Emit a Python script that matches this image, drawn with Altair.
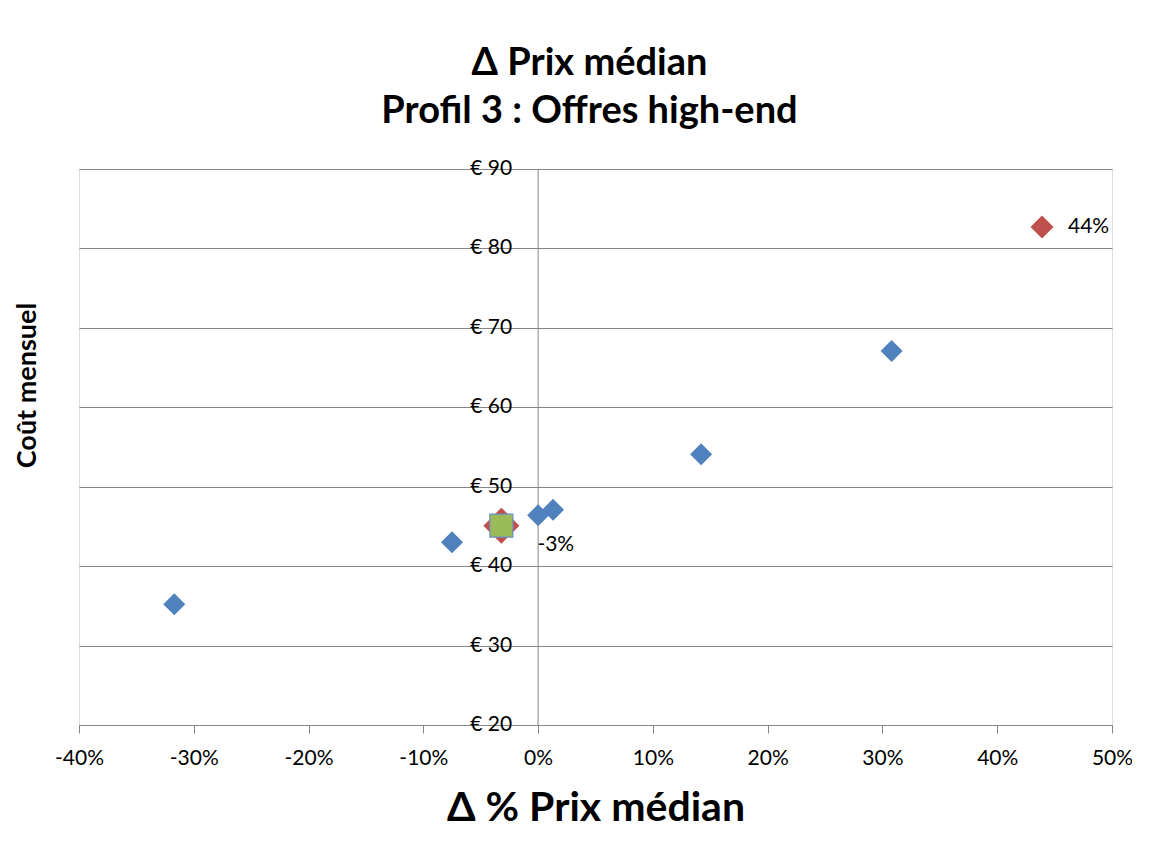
import altair as alt
import pandas as pd

# ---- data ----
blue_x = [-31.7, -7.5, 0.0, 1.3, 14.2, 30.8]
blue_y = [35.2, 43.0, 46.4, 47.1, 54.1, 67.1]

red_x = [43.9]
red_y = [82.7]

median_x = [-3.2]
median_y = [45.1]

label_x = [43.9, -3.2]
label_y = [82.7, 45.1]
label_text = ["44%", "-3%"]

x_ticks = [-40, -30, -20, -10, 0, 10, 20, 30, 40, 50]
y_ticks = [20, 30, 40, 50, 60, 70, 80, 90]
y_tick_labels = ["€ 20", "€ 30", "€ 40", "€ 50", "€ 60", "€ 70", "€ 80", "€ 90"]

# ---- styling ----
FONT = "Lato"
GRID = "#868686"
BLUE = "#4F81BD"
RED = "#C0504D"
GREEN = "#9BBB59"

W, H = 1033, 556

xenc = alt.X(
    "x:Q",
    scale=alt.Scale(domain=[-40, 50], nice=False, zero=False),
    axis=alt.Axis(
        values=x_ticks,
        labelExpr="datum.value + '%'",
        labelFlush=False,
        labelOverlap=False,
        grid=False,
        domainColor=GRID,
        tickColor=GRID,
        tickSize=8,
        labelFont=FONT,
        labelFontSize=21,
        labelColor="black",
        labelPadding=14,
        title="Δ % Prix médian",
        titleFont=FONT,
        titleFontSize=41,
        titleFontWeight="bold",
        titleColor="black",
        titlePadding=20,
    ),
)
yenc = alt.Y(
    "y:Q",
    scale=alt.Scale(domain=[20, 90], nice=False, zero=False),
    axis=alt.Axis(
        values=y_ticks,
        grid=True,
        gridColor=GRID,
        gridWidth=1,
        labels=False,
        ticks=False,
        domain=False,
        title="Coût mensuel",
        titleFont=FONT,
        titleFontSize=27,
        titleFontWeight="bold",
        titleColor="black",
        titleAngle=270,
        titleAlign="center",
        titleBaseline="middle",
        titleX=-52,
        titleY=216,
    ),
)

blue_df = pd.DataFrame({"x": blue_x, "y": blue_y})
red_df = pd.DataFrame({"x": red_x, "y": red_y})
med_df = pd.DataFrame({"x": median_x, "y": median_y})
ytl_df = pd.DataFrame({"x": [0] * len(y_ticks), "y": y_ticks, "label": y_tick_labels})
axis_df = pd.DataFrame({"x": [0], "y": [y_ticks[0]], "y2": [y_ticks[-1]]})
lab_df = pd.DataFrame({"x": label_x, "y": label_y, "label": label_text})

vline = alt.Chart(axis_df).mark_rule(color=GRID, strokeWidth=1).encode(
    x=xenc, y=yenc, y2="y2:Q"
)

ylabels = alt.Chart(ytl_df).mark_text(
    align="right", baseline="middle", dx=-26, font=FONT, fontSize=21, color="black"
).encode(x=xenc, y=yenc, text="label:N")

blue_pts = alt.Chart(blue_df).mark_point(
    shape="diamond", filled=True, size=484, color=BLUE, opacity=1
).encode(x=xenc, y=yenc)

red_pts = alt.Chart(red_df).mark_point(
    shape="diamond", filled=True, size=529, color=RED, opacity=1
).encode(x=xenc, y=yenc)

med_red = alt.Chart(med_df).mark_point(
    shape="diamond", filled=True, size=1296, color=RED, opacity=1
).encode(x=xenc, y=yenc)

med_green = alt.Chart(med_df).mark_point(
    shape="square", filled=True, size=529, fill=GREEN, stroke="#6A8FC4",
    strokeWidth=1.2, opacity=1, strokeOpacity=1
).encode(x=xenc, y=yenc)

label_offsets = [(26, 0), (36, 19)]
label_layers = []
for i, (ddx, ddy) in enumerate(label_offsets):
    label_layers.append(
        alt.Chart(lab_df.iloc[[i]]).mark_text(
            align="left", baseline="middle", dx=ddx, dy=ddy,
            font=FONT, fontSize=21, color="black"
        ).encode(x=xenc, y=yenc, text="label:N")
    )

chart = alt.layer(
    vline, ylabels, blue_pts, red_pts, med_red, med_green, *label_layers
).properties(
    width=W,
    height=H,
    title=alt.TitleParams(
        text=["Δ Prix médian", "Profil 3 : Offres high-end"],
        font=FONT,
        fontSize=38,
        fontWeight="bold",
        color="black",
        lineHeight=48,
        anchor="middle",
        offset=27,
        dx=-6,
    ),
    autosize=alt.AutoSizeParams(type="none"),
    padding={"left": 71, "top": 161, "right": 20, "bottom": 110},
).configure_view(stroke=None).configure(background="white")

chart.save("out.html", embed_options={"renderer": "svg", "actions": False})
